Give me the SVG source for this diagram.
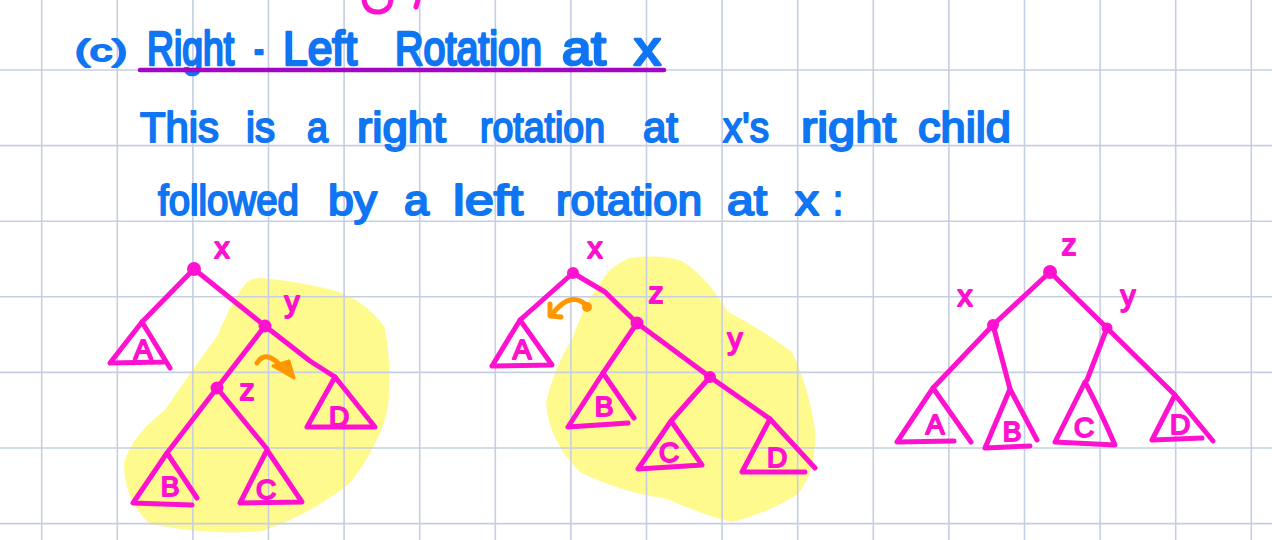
<svg xmlns="http://www.w3.org/2000/svg" width="1272" height="540" viewBox="0 0 1272 540">
<style>
.grid line{stroke:#c5cfe1;stroke-width:1.6}
.blue{font-family:"Liberation Sans","Noto Sans",sans-serif;fill:#0f75f2;stroke:#0f75f2;stroke-width:2;stroke-linejoin:round}
.ink{fill:none;stroke:#ff12cf;stroke-width:5;stroke-linecap:round;stroke-linejoin:round}
.dot{fill:#ff12cf}
.lbl{font-family:"Liberation Sans","Noto Sans",sans-serif;fill:#ff12cf;stroke:#ff12cf;stroke-width:2;stroke-linejoin:round;text-anchor:middle}
.sub{font-size:28px}
.nl{font-size:30px}
.hl{fill:#fffa8e}
.org{fill:none;stroke:#ff9800;stroke-width:5;stroke-linecap:round;stroke-linejoin:round}
</style>
<rect width="1272" height="540" fill="#ffffff"/>
<g id="highlights">
<path class="hl" d="M246,283 Q253,276 270,279 Q300,282 333,290 Q367,301 385,328 Q392,370 388,407 Q380,445 350,483 Q310,515 262,531 Q212,536 150,524 Q124,500 124,463 Q132,435 165,410 Q185,380 218,335 Q232,300 246,283 Z"/>
<path class="hl" d="M630,258 Q660,254 682,261 Q708,278 728,312 Q760,328 792,352 Q808,385 815,430 Q817,470 798,494 Q770,512 733,522 Q705,516 667,499 Q620,492 580,472 Q549,442 546,403 Q553,370 573,337 Q585,300 610,270 Q620,262 630,258 Z"/>
</g>
<g class="grid">
<line x1="41.7" y1="0" x2="41.7" y2="540"/><line x1="117.3" y1="0" x2="117.3" y2="540"/><line x1="192.9" y1="0" x2="192.9" y2="540"/><line x1="268.5" y1="0" x2="268.5" y2="540"/><line x1="344.1" y1="0" x2="344.1" y2="540"/><line x1="419.7" y1="0" x2="419.7" y2="540"/><line x1="495.3" y1="0" x2="495.3" y2="540"/><line x1="570.9" y1="0" x2="570.9" y2="540"/><line x1="646.5" y1="0" x2="646.5" y2="540"/><line x1="722.1" y1="0" x2="722.1" y2="540"/><line x1="797.7" y1="0" x2="797.7" y2="540"/><line x1="873.3" y1="0" x2="873.3" y2="540"/><line x1="948.9" y1="0" x2="948.9" y2="540"/><line x1="1024.5" y1="0" x2="1024.5" y2="540"/><line x1="1100.1" y1="0" x2="1100.1" y2="540"/><line x1="1175.7" y1="0" x2="1175.7" y2="540"/><line x1="1251.3" y1="0" x2="1251.3" y2="540"/>
<line x1="0" y1="70" x2="1272" y2="70"/><line x1="0" y1="145.6" x2="1272" y2="145.6"/><line x1="0" y1="221.2" x2="1272" y2="221.2"/><line x1="0" y1="296.8" x2="1272" y2="296.8"/><line x1="0" y1="372.4" x2="1272" y2="372.4"/><line x1="0" y1="448" x2="1272" y2="448"/><line x1="0" y1="523.6" x2="1272" y2="523.6"/>
</g>
<g id="top-fragments">
<path class="ink" d="M364,0 Q366,13 380,12 Q390,10 391,0"/>
<path class="ink" d="M418,0 L416,7"/>
</g>
<g id="title">
<text class="blue" x="75" y="61" font-size="30" textLength="52" lengthAdjust="spacingAndGlyphs">(c)</text>
<text class="blue" font-size="36" transform="translate(0,65) scale(1,1.35)"><tspan x="147" y="0" textLength="87" lengthAdjust="spacingAndGlyphs">Right</tspan><tspan x="254" textLength="10" lengthAdjust="spacingAndGlyphs">-</tspan><tspan x="283" textLength="74" lengthAdjust="spacingAndGlyphs">Left</tspan><tspan x="395" textLength="147" lengthAdjust="spacingAndGlyphs">Rotation</tspan><tspan x="562" textLength="44" lengthAdjust="spacingAndGlyphs">at</tspan><tspan x="634" textLength="27" lengthAdjust="spacingAndGlyphs">x</tspan></text>
<line x1="140" y1="70" x2="664" y2="70" stroke="#a306c3" stroke-width="4.5" stroke-linecap="round"/>
</g>
<g id="line2">
<text class="blue" y="142" font-size="42"><tspan x="140" textLength="79" lengthAdjust="spacingAndGlyphs">This</tspan><tspan x="246" textLength="29" lengthAdjust="spacingAndGlyphs">is</tspan><tspan x="307" textLength="21" lengthAdjust="spacingAndGlyphs">a</tspan><tspan x="357" textLength="89" lengthAdjust="spacingAndGlyphs">right</tspan><tspan x="480" textLength="125" lengthAdjust="spacingAndGlyphs">rotation</tspan><tspan x="643" textLength="35" lengthAdjust="spacingAndGlyphs">at</tspan><tspan x="723" textLength="46" lengthAdjust="spacingAndGlyphs">x's</tspan><tspan x="801" textLength="95" lengthAdjust="spacingAndGlyphs">right</tspan><tspan x="918" textLength="93" lengthAdjust="spacingAndGlyphs">child</tspan></text>
</g>
<g id="line3">
<text class="blue" y="215" font-size="42"><tspan x="158" textLength="141" lengthAdjust="spacingAndGlyphs">followed</tspan><tspan x="328" textLength="49" lengthAdjust="spacingAndGlyphs">by</tspan><tspan x="404" textLength="25" lengthAdjust="spacingAndGlyphs">a</tspan><tspan x="453" textLength="70" lengthAdjust="spacingAndGlyphs">left</tspan><tspan x="556" textLength="146" lengthAdjust="spacingAndGlyphs">rotation</tspan><tspan x="727" textLength="40" lengthAdjust="spacingAndGlyphs">at</tspan><tspan x="795" textLength="24" lengthAdjust="spacingAndGlyphs">x</tspan><tspan x="833" textLength="10" lengthAdjust="spacingAndGlyphs">:</tspan></text>
</g>
<g id="connectors">
<path class="ink" d="M194,269 L142,322"/>
<path class="ink" d="M194,269 L265,326"/>
<path class="ink" d="M265,326 L310,361 L335,377"/>
<path class="ink" d="M265,326 L217,388"/>
<path class="ink" d="M217,388 L167,453"/>
<path class="ink" d="M217,388 L267,449"/>
<path class="ink" d="M573,273 L520,320"/>
<path class="ink" d="M573,273 L605,292 L637,323"/>
<path class="ink" d="M637,323 L603,373"/>
<path class="ink" d="M637,323 L710,377"/>
<path class="ink" d="M710,377 L671,421"/>
<path class="ink" d="M710,377 L770,419"/>
<path class="ink" d="M1050,272 L993,325"/>
<path class="ink" d="M1050,272 L1107,328"/>
<path class="ink" d="M993,325 L933,388"/>
<path class="ink" d="M993,325 L1010,389"/>
<path class="ink" d="M1107,328 L1087,380"/>
<path class="ink" d="M1107,328 L1175,395"/>
<path class="org" d="M257,363 Q265,350 279,364"/>
<path d="M273,366 L289,361 L294,378 Z" fill="#ff9800" stroke="#ff9800" stroke-width="3" stroke-linejoin="round"/>
<path class="org" d="M587,306 Q572,290 553,313"/>
<circle cx="587" cy="307" r="5" fill="#ff9800"/>
<path class="org" d="M550,304 L550,316 L561,317"/>
</g>
<g id="t1-x"><circle class="dot" cx="194" cy="269" r="7"/><text class="lbl nl" x="222" y="258">x</text></g>
<g id="t1-y"><circle class="dot" cx="265" cy="326" r="6.5"/><text class="lbl nl" x="292" y="312">y</text></g>
<g id="t1-z"><circle class="dot" cx="217" cy="388" r="6.5"/><text class="lbl nl" x="247" y="400">z</text></g>
<g id="t1-A"><path class="ink" d="M142,322 L110,363 L163,362 M142,322 L170,368"/><text class="lbl sub" x="143" y="359">A</text></g>
<g id="t1-D"><path class="ink" d="M335,377 L307,427 L375,427 Z"/><text class="lbl sub" x="339" y="426">D</text></g>
<g id="t1-B"><path class="ink" d="M167,453 L133,503 L192,505 M167,453 L197,498"/><text class="lbl sub" x="170" y="496">B</text></g>
<g id="t1-C"><path class="ink" d="M267,450 L240,503 L302,502 Z"/><text class="lbl sub" x="266" y="499">C</text></g>
<g id="t2-x"><circle class="dot" cx="573" cy="273" r="6"/><text class="lbl nl" x="595" y="258">x</text></g>
<g id="t2-z"><circle class="dot" cx="637" cy="323" r="6.5"/><text class="lbl nl" x="656" y="303">z</text></g>
<g id="t2-y"><circle class="dot" cx="710" cy="377" r="6"/><text class="lbl nl" x="735" y="349">y</text></g>
<g id="t2-A"><path class="ink" d="M520,320 L492,366 L552,365 Z"/><text class="lbl sub" x="522" y="359">A</text></g>
<g id="t2-B"><path class="ink" d="M603,373 L568,427 L628,423 M603,373 L634,418"/><text class="lbl sub" x="604" y="416">B</text></g>
<g id="t2-C"><path class="ink" d="M671,421 L638,469 L702,465 Z"/><text class="lbl sub" x="669" y="462">C</text></g>
<g id="t2-D"><path class="ink" d="M770,419 L742,472 L805,472 M770,419 L815,468"/><text class="lbl sub" x="777" y="467">D</text></g>
<g id="t3-z"><circle class="dot" cx="1050" cy="272" r="7"/><text class="lbl nl" x="1069" y="255">z</text></g>
<g id="t3-x"><circle class="dot" cx="993" cy="325" r="6"/><text class="lbl nl" x="965" y="306">x</text></g>
<g id="t3-y"><circle class="dot" cx="1107" cy="328" r="5.5"/><text class="lbl nl" x="1128" y="306">y</text></g>
<g id="t3-A"><path class="ink" d="M933,388 L897,442 L954,441 M933,388 L971,442"/><text class="lbl sub" x="935" y="434">A</text></g>
<g id="t3-B"><path class="ink" d="M1010,389 L985,448 L1030,446 M1010,389 L1037,440"/><text class="lbl sub" x="1012" y="441">B</text></g>
<g id="t3-C"><path class="ink" d="M1085,382 L1055,442 L1115,445 Q1100,410 1085,382"/><text class="lbl sub" x="1084" y="437">C</text></g>
<g id="t3-D"><path class="ink" d="M1175,395 L1152,440 L1202,438 M1175,395 L1213,441"/><text class="lbl sub" x="1180" y="434">D</text></g>
</svg>
